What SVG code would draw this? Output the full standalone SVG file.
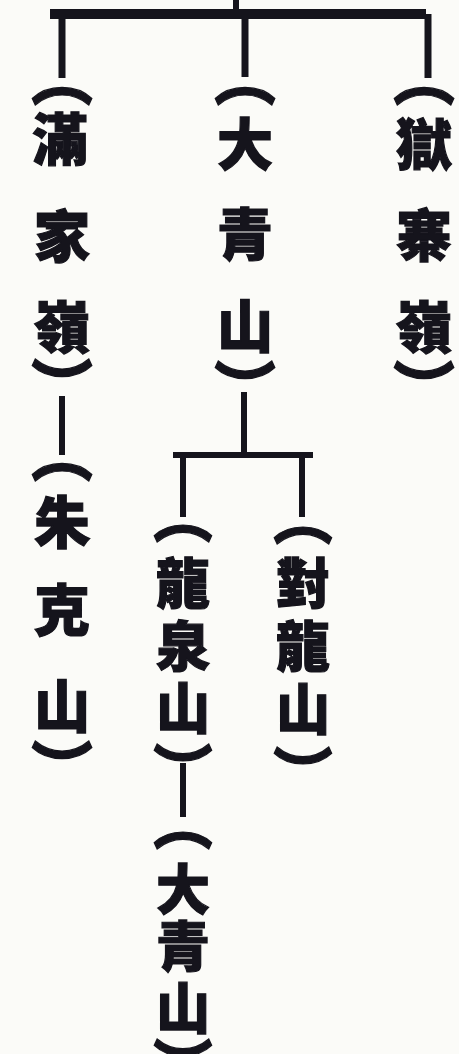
<svg xmlns="http://www.w3.org/2000/svg" width="459" height="1054" viewBox="0 0 459 1054">
<style>
.t{font-family:"Noto Sans CJK TC","Noto Sans CJK SC",sans-serif;font-weight:900;font-size:56px;fill:#15141c;stroke:#15141c;stroke-width:1.2;text-anchor:middle;dominant-baseline:central}
.s{font-size:54px}
.c{stroke:#15141c;fill:none;stroke-linecap:butt}
</style>
<rect width="459" height="1054" fill="#fbfbf8"/>
<g id="connectors" class="c">
<line x1="236" y1="0" x2="236" y2="12" stroke-width="6"/>
<line x1="50" y1="14" x2="426" y2="14" stroke-width="10"/>
<line x1="62" y1="14" x2="62" y2="78" stroke-width="7"/>
<line x1="245" y1="14" x2="245" y2="77" stroke-width="7"/>
<line x1="428" y1="14" x2="428" y2="78" stroke-width="7"/>
<line x1="62" y1="396" x2="62" y2="455" stroke-width="6"/>
<line x1="244" y1="392" x2="244" y2="452" stroke-width="6"/>
<line x1="173" y1="455" x2="313" y2="455" stroke-width="6"/>
<line x1="183" y1="455" x2="183" y2="517" stroke-width="6"/>
<line x1="302" y1="455" x2="302" y2="517" stroke-width="6"/>
<line x1="183" y1="763" x2="183" y2="817" stroke-width="6"/>
</g>
<g id="n1" class="t">
<text transform="translate(62,76) scale(1.1,1)">︵</text>
<text x="60" y="135">滿</text>
<text x="62" y="232">家</text>
<text x="62" y="323">嶺</text>
<text transform="translate(62,382) scale(1.1,1)">︶</text>
</g>
<g id="n2" class="t">
<text transform="translate(245,76) scale(1.1,1)">︵</text>
<text x="245" y="140">大</text>
<text x="245" y="230">青</text>
<text x="245" y="322">山</text>
<text transform="translate(245,384) scale(1.1,1)">︶</text>
</g>
<g id="n3" class="t">
<text transform="translate(424,76) scale(1.1,1)">︵</text>
<text x="424" y="140">獄</text>
<text x="424" y="231">寨</text>
<text x="424" y="323">嶺</text>
<text transform="translate(424,384) scale(1.1,1)">︶</text>
</g>
<g id="n4" class="t">
<text transform="translate(62,452) scale(1.1,1)">︵</text>
<text x="62" y="518">朱</text>
<text x="62" y="606">克</text>
<text x="62" y="702">山</text>
<text transform="translate(62,764) scale(1.1,1)">︶</text>
</g>
<g id="n5" class="t s">
<text transform="translate(183,514) scale(1.1,1)">︵</text>
<text x="183" y="580">龍</text>
<text x="183" y="643">泉</text>
<text x="183" y="705">山</text>
<text transform="translate(183,766) scale(1.1,1)">︶</text>
</g>
<g id="n6" class="t s">
<text transform="translate(303,516) scale(1.1,1)">︵</text>
<text x="303" y="580">對</text>
<text x="303" y="643">龍</text>
<text x="303" y="706">山</text>
<text transform="translate(303,769) scale(1.1,1)">︶</text>
</g>
<g id="n7" class="t s">
<text transform="translate(183,821) scale(1.1,1)">︵</text>
<text x="183" y="886">大</text>
<text x="183" y="943">青</text>
<text x="183" y="1005">山</text>
<text transform="translate(183,1061) scale(1.1,1)">︶</text>
</g>
</svg>
